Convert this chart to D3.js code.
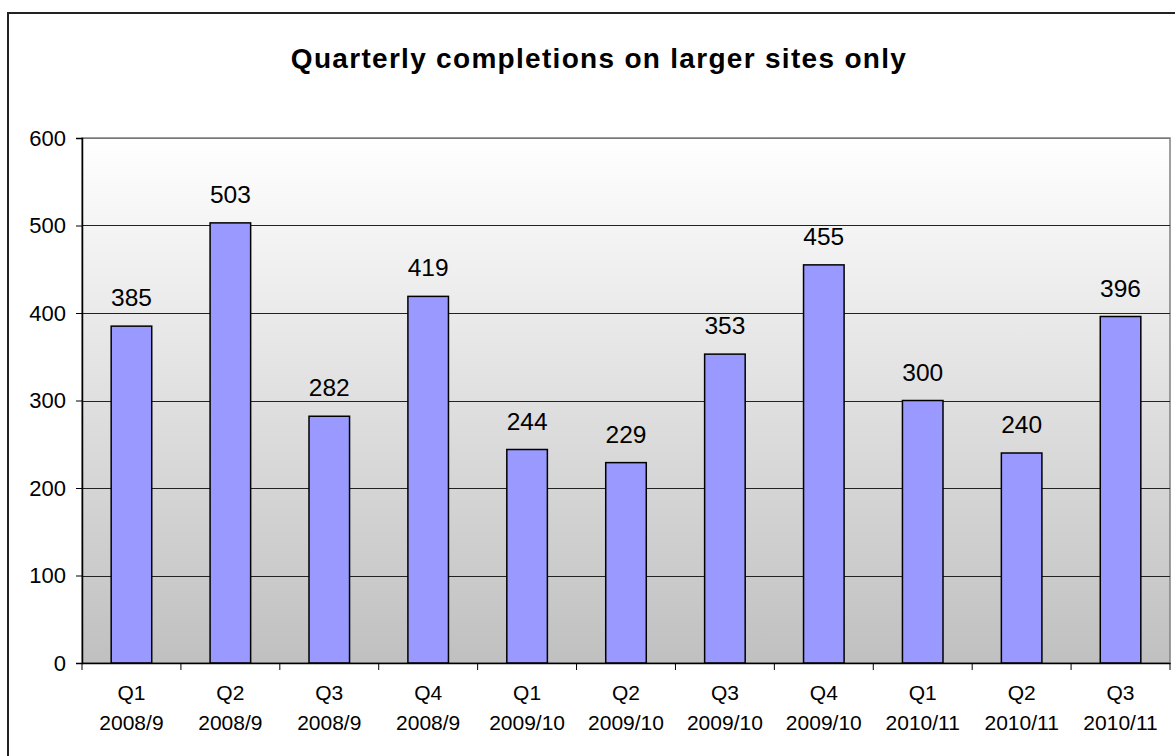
<!DOCTYPE html>
<html>
<head>
<meta charset="utf-8">
<script src="https://cdn.jsdelivr.net/npm/d3@7"></script>
<style>
  html, body { margin: 0; padding: 0; background: #fff; }
  svg { display: block; }
  text { font-family: "Liberation Sans", Arial, sans-serif; fill: #000; }
</style>
</head>
<body>
<svg id="chart" width="1175" height="756"></svg>
<script>
const quarters = ["Q1", "Q2", "Q3", "Q4", "Q1", "Q2", "Q3", "Q4", "Q1", "Q2", "Q3"];
const years = ["2008/9", "2008/9", "2008/9", "2008/9", "2009/10", "2009/10", "2009/10", "2009/10", "2010/11", "2010/11", "2010/11"];
const completions = [385, 503, 282, 419, 244, 229, 353, 455, 300, 240, 396];
const yTicks = [0, 100, 200, 300, 400, 500, 600];
const title = "Quarterly completions on larger sites only";

const svg = d3.select("#chart");
const plot = { left: 82, right: 1170, top: 138, bottom: 663 };

const cats = d3.range(completions.length);
const x = d3.scaleBand().domain(cats).range([plot.left, plot.right]).paddingInner(0.59).paddingOuter(0.295);
const xb = d3.scaleBand().domain(cats).range([plot.left, plot.right]);
const y = d3.scaleLinear().domain([0, 600]).range([plot.bottom, plot.top]);

// outer frame
svg.append("rect").attr("x", 8).attr("y", 13).attr("width", 1180).attr("height", 770)
  .attr("fill", "#fff").attr("stroke", "#222").attr("stroke-width", 2);

// gradient background
const defs = svg.append("defs");
const grad = defs.append("linearGradient").attr("id", "bg").attr("x1", 0).attr("y1", 0).attr("x2", 0).attr("y2", 1);
grad.append("stop").attr("offset", "0%").attr("stop-color", "#ffffff");
grad.append("stop").attr("offset", "100%").attr("stop-color", "#c0c0c0");

svg.append("rect").attr("x", plot.left).attr("y", plot.top)
  .attr("width", plot.right - plot.left).attr("height", plot.bottom - plot.top)
  .attr("fill", "url(#bg)").attr("stroke", "#808080").attr("stroke-width", 1.5);

// gridlines
svg.append("g").selectAll("line").data(yTicks.filter(d => d > 0)).join("line")
  .attr("x1", plot.left).attr("x2", plot.right)
  .attr("y1", d => Math.round(y(d)) + 0.5).attr("y2", d => Math.round(y(d)) + 0.5)
  .attr("stroke", d => d === 600 ? "#777" : "#222").attr("stroke-width", 1);

// bars
svg.append("g").selectAll("rect").data(completions).join("rect")
  .attr("x", (d, i) => x(i)).attr("width", x.bandwidth())
  .attr("y", d => y(d)).attr("height", d => y(0) - y(d))
  .attr("fill", "#9999ff").attr("stroke", "#000").attr("stroke-width", 1.5);

// value labels
svg.append("g").selectAll("text").data(completions).join("text")
  .attr("x", (d, i) => x(i) + x.bandwidth() / 2).attr("y", d => y(d) - 20)
  .attr("text-anchor", "middle").attr("font-size", 24.5).text(d => d);

// y axis
const yAxis = d3.axisLeft(y).tickValues(yTicks).tickSize(6).tickPadding(10);
const gy = svg.append("g").attr("transform", `translate(${plot.left},0)`).call(yAxis);
gy.attr("font-size", 22).attr("font-family", "Liberation Sans, Arial, sans-serif");
gy.select(".domain").attr("stroke", "#000").attr("stroke-width", 1.5);
gy.selectAll(".tick line").attr("stroke", "#000");
gy.selectAll(".tick text").attr("fill", "#000");

// x axis
const xAxis = d3.axisBottom(xb).tickSize(0).tickFormat(() => "");
const gx = svg.append("g").attr("transform", `translate(0,${plot.bottom})`).call(xAxis);
gx.select(".domain").attr("stroke", "#000").attr("stroke-width", 1.5);
// category boundary ticks
svg.append("g").selectAll("line").data(d3.range(completions.length + 1)).join("line")
  .attr("x1", i => i < completions.length ? xb(i) : plot.right)
  .attr("x2", i => i < completions.length ? xb(i) : plot.right)
  .attr("y1", plot.bottom).attr("y2", plot.bottom + 7)
  .attr("stroke", "#000").attr("stroke-width", 1);

const xl = svg.append("g").selectAll("text").data(cats).join("text")
  .attr("text-anchor", "middle").attr("font-size", 21)
  .attr("x", i => xb(i) + xb.bandwidth() / 2);
xl.append("tspan").attr("x", i => xb(i) + xb.bandwidth() / 2).attr("y", 700).text(i => quarters[i]);
xl.append("tspan").attr("x", i => xb(i) + xb.bandwidth() / 2).attr("y", 730).text(i => years[i]);

// title
svg.append("text").attr("x", 599).attr("y", 68).attr("text-anchor", "middle")
  .attr("font-size", 28).attr("letter-spacing", 1.3).attr("font-weight", "bold").text(title);
</script>
</body>
</html>
